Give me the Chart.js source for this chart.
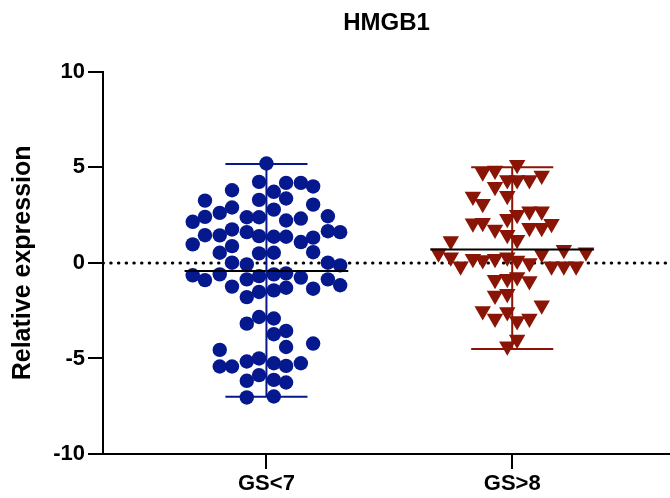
<!DOCTYPE html>
<html>
<head>
<meta charset="utf-8">
<title>HMGB1</title>
<script src="https://cdn.jsdelivr.net/npm/chart.js@4.4.1/dist/chart.umd.min.js"></script>
<style>
  html, body { margin: 0; padding: 0; background: #fff; }
  #chart { display: block; }
</style>
</head>
<body>
<canvas id="chart" width="670" height="498"></canvas>
<script>
const groupLabels = ['GS<7', 'GS>8'];
const yTicks = [-10, -5, 0, 5, 10];

// GS<7 : relative expression values and their horizontal spread (category units)
const gsLowValues = [
  5.2, 4.24, 4.19, 4.19, 4.0, 3.8, 3.72, 3.26, 3.3, 3.37,
  3.05, 2.9, 2.79, 2.62, 2.41, 2.15, 2.39, 2.39, 2.22, 2.32,
  2.44, 1.45, 1.44, 1.75, 1.61, 1.4, 1.37, 1.37, 1.09, 1.32,
  1.66, 1.61, 0.97, 0.53, 0.88, 0.5, 0.53, 0.56, 0.01, -0.08,
  0.01, -0.13, -0.65, -0.9, -0.6, -0.86, -0.69, -0.6, -0.55, -0.77,
  -0.86, -1.17, -1.24, -1.35, -1.79, -1.52, -1.44, -1.3, -3.18, -2.83,
  -2.91, -3.73, -3.56, -4.4, -4.22, -4.55, -5.42, -5.42, -5.16, -5.0,
  -5.25, -5.39, -5.25, -6.17, -5.87, -6.12, -6.26, -7.04, -6.99
];
const gsLowSpread = [
  0, -0.03, 0.08, 0.14, 0.19, -0.14, 0.03, -0.25, -0.03, 0.08,
  0.19, -0.14, 0.03, -0.19, -0.25, -0.30, -0.08, -0.03, 0.08, 0.14,
  0.25, -0.25, -0.19, -0.14, -0.08, -0.03, 0.03, 0.08, 0.14, 0.19,
  0.25, 0.30, -0.30, -0.19, -0.14, -0.03, 0.03, 0.19, -0.14, -0.08,
  0.25, 0.30, -0.30, -0.25, -0.19, -0.08, -0.03, 0.03, 0.08, 0.14,
  0.25, 0.30, -0.14, 0.19, -0.08, -0.03, 0.03, 0.08, -0.08, -0.03,
  0.03, 0.03, 0.08, 0.08, 0.19, -0.19, -0.19, -0.14, -0.08, -0.03,
  0.03, 0.08, 0.14, -0.08, -0.03, 0.03, 0.08, -0.08, 0.03
];

// GS>8
const gsHighValues = [
  5.13, 4.74, 4.83, 4.57, 4.34, 4.34, 4.34, 3.99, 3.47, 3.52,
  3.09, 2.7, 2.7, 2.52, 2.31, 2.08, 2.1, 1.75, 1.84, 1.84,
  2.05, 1.47, 1.21, 1.14, 0.51, 0.69, 0.56, 0.3, 0.3, 0.48,
  0.22, 0.15, 0.22, -0.17, 0.13, -0.01, -0.18, -0.18, -0.18, -0.88,
  -0.83, -0.74, -0.95, -1.7, -1.61, -2.52, -2.57, -2.22, -2.91, -3.04,
  -2.91, -4.01, -4.36
];
const gsHighSpread = [
  0.02, -0.12, -0.07, 0.12, -0.02, 0.02, 0.07, -0.07, -0.16, -0.02,
  -0.12, 0.07, 0.12, 0.02, -0.02, -0.16, -0.12, -0.07, 0.07, 0.12,
  0.16, -0.02, 0.02, -0.25, -0.30, 0.21, 0.30, -0.25, -0.02, 0.12,
  -0.16, -0.12, -0.07, -0.21, 0.02, 0.07, 0.16, 0.21, 0.26, -0.07,
  -0.02, 0.02, 0.07, -0.07, -0.02, -0.12, -0.02, 0.12, -0.07, 0.02,
  0.07, 0.02, -0.02
];

// summary bars: mean line and range
const groupMeans = [-0.43, 0.70];
const groupMins = [-7.0, -4.5];
const groupMaxs = [5.18, 5.0];

const blue = '#06188e';
const red = '#8a1405';
const groupColors = [blue, red];
const xMin = 0.335, xMax = 2.642;
const fontFamily = "'Liberation Sans', Arial, sans-serif";

function seg(x1, y1, x2, y2, color) {
  return {
    type: 'line',
    data: [{ x: x1, y: y1 }, { x: x2, y: y2 }],
    borderColor: color,
    borderWidth: 2,
    pointRadius: 0,
    showLine: true,
    fill: false,
    order: 1
  };
}

let datasets = [];

datasets.push({
  type: 'line',
  data: [{ x: xMin, y: 0 }, { x: xMax, y: 0 }],
  borderColor: '#000',
  borderWidth: 3,
  borderDash: [0.5, 7.2],
  borderCapStyle: 'round',
  pointRadius: 0,
  showLine: true,
  order: 10
});

datasets.push({
  data: gsLowValues.map((v, i) => ({ x: 1 + gsLowSpread[i], y: v })),
  pointStyle: 'circle',
  pointRadius: 7.2,
  backgroundColor: blue,
  borderWidth: 0,
  order: 5
});

datasets.push({
  data: gsHighValues.map((v, i) => ({ x: 2 + gsHighSpread[i], y: v })),
  pointStyle: 'triangle',
  pointRotation: 180,
  pointRadius: 9.5,
  backgroundColor: red,
  borderWidth: 0,
  order: 5
});

for (let g = 0; g < 2; g++) {
  const c = g + 1;
  const col = groupColors[g];
  datasets.push(seg(c, groupMins[g], c, groupMaxs[g], col));
  datasets.push(seg(c - 0.167, groupMaxs[g], c + 0.167, groupMaxs[g], col));
  datasets.push(seg(c - 0.167, groupMins[g], c + 0.167, groupMins[g], col));
  datasets.push(seg(c - 0.333, groupMeans[g], c + 0.333, groupMeans[g], '#000'));
}

new Chart(document.getElementById('chart'), {
  type: 'scatter',
  data: { datasets: datasets },
  options: {
    responsive: false,
    animation: false,
    layout: { padding: 0, autoPadding: false },
    plugins: {
      legend: { display: false },
      tooltip: { enabled: false },
      title: {
        display: true,
        text: 'HMGB1',
        fullSize: false,
        color: '#000',
        font: { family: fontFamily, size: 24, weight: 'bold' },
        padding: { top: 9, bottom: 34 }
      }
    },
    scales: {
      x: {
        type: 'linear',
        min: xMin,
        max: xMax,
        afterBuildTicks: s => { s.ticks = [1, 2].map(v => ({ value: v })); },
        afterFit: s => { s.height = 44; s.paddingLeft = 0; s.paddingRight = 0; },
        ticks: {
          callback: v => groupLabels[v - 1],
          color: '#000',
          padding: 2,
          maxRotation: 0,
          font: { family: fontFamily, size: 22, weight: 'bold' }
        },
        grid: { drawOnChartArea: false, drawTicks: true, tickLength: 15, color: '#000', lineWidth: 2 },
        border: { display: true, color: '#000', width: 2 }
      },
      y: {
        min: -10,
        max: 10,
        afterBuildTicks: s => { s.ticks = yTicks.map(v => ({ value: v })); },
        afterFit: s => { s.width = 103; },
        ticks: {
          color: '#000',
          padding: 3,
          font: { family: fontFamily, size: 22, weight: 'bold' }
        },
        grid: { drawOnChartArea: false, drawTicks: true, tickLength: 15, color: '#000', lineWidth: 2 },
        border: { display: true, color: '#000', width: 2 },
        title: {
          display: true,
          text: 'Relative expression',
          color: '#000',
          font: { family: fontFamily, size: 25, weight: 'bold' },
          padding: { top: 8, bottom: 0 }
        }
      }
    }
  }
});
</script>
</body>
</html>
